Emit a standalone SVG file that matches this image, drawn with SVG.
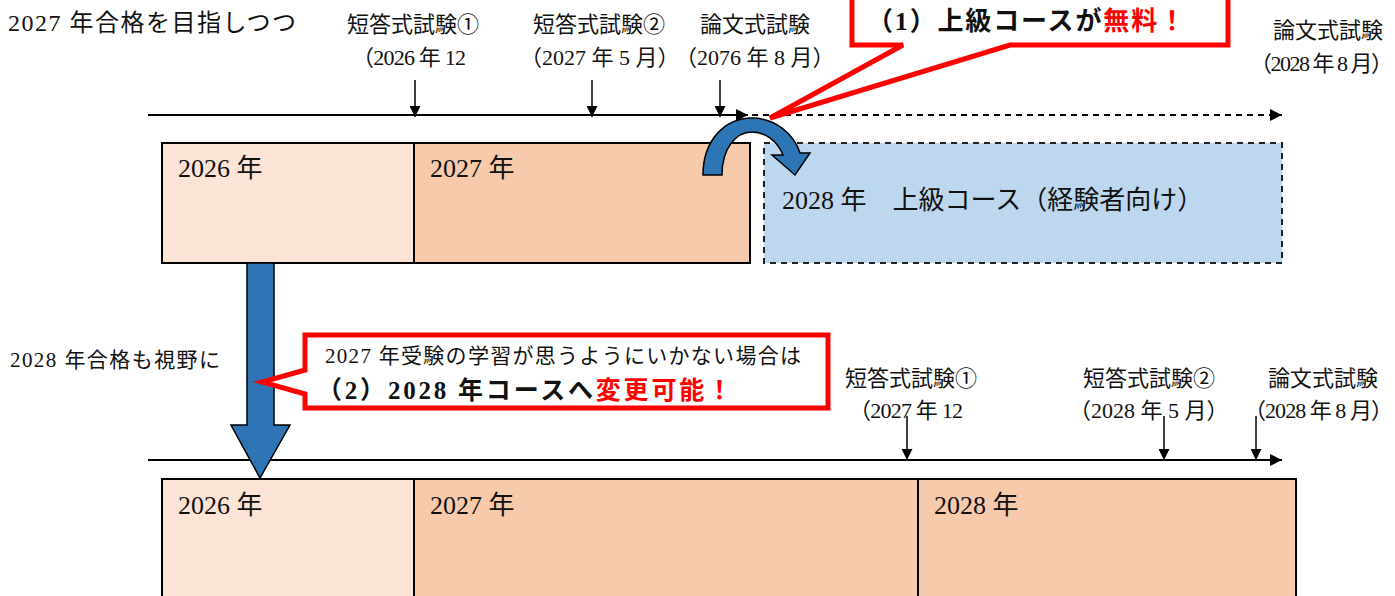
<svg xmlns="http://www.w3.org/2000/svg" width="1395" height="596" viewBox="0 0 1395 596">
<defs>
<style>
text{font-family:"Liberation Serif","Noto Sans CJK JP",serif;fill:#111}
.lbl{font-size:22px}
.big{font-size:26px}
.mid{font-size:21px}
.bold{font-weight:bold}
.red{fill:#ff0000}
.line{stroke:#000;stroke-width:2;fill:none}
.tick{stroke:#000;stroke-width:1.5;fill:none}
.box{stroke:#000;stroke-width:2}
.c1{fill:#fbe4d6}
.c2{fill:#f7caac}
.callout{fill:#fff;stroke:#ff0000;stroke-width:5;stroke-linejoin:miter}
.blue{fill:#2e75b6;stroke:#000;stroke-width:1.5}
</style>
<marker id="ah" viewBox="0 0 10 10" refX="10" refY="5" markerWidth="14" markerHeight="12" markerUnits="userSpaceOnUse" orient="auto">
<path d="M0,0 L10,5 L0,10 Z" fill="#000"/>
</marker>
<marker id="ahs" viewBox="0 0 10 10" refX="10" refY="5" markerWidth="14" markerHeight="11" markerUnits="userSpaceOnUse" orient="auto">
<path d="M0,0 L10,5 L0,10 Z" fill="#000"/>
</marker>
</defs>
<rect width="1395" height="596" fill="#fff"/>

<g id="labels-top">
<text x="8" y="31" style="font-size:24px" textLength="288">2027 年合格を目指しつつ</text>
<text class="lbl" x="347" y="32">短答式試験①</text>
<text class="lbl" x="352" y="65" textLength="114">（2026 年 12</text>
<text class="lbl" x="533" y="32">短答式試験②</text>
<text class="lbl" x="520" y="65">（2027 年 5 月）</text>
<text class="lbl" x="700" y="32">論文式試験</text>
<text class="lbl" x="675" y="65">（2076 年 8 月）</text>
<text class="lbl" x="1273" y="38">論文式試験</text>
<text class="lbl" x="1250" y="71" textLength="143">（2028 年 8 月）</text>
</g>

<g id="connectors">
<line class="line" x1="148" y1="115" x2="748" y2="115" marker-end="url(#ah)"/>
<line class="line" x1="752" y1="115" x2="1282" y2="115" stroke-dasharray="6,5" marker-end="url(#ah)"/>
<line class="tick" x1="415" y1="80" x2="415" y2="117" marker-end="url(#ahs)"/>
<line class="tick" x1="592" y1="80" x2="592" y2="117" marker-end="url(#ahs)"/>
<line class="tick" x1="720" y1="80" x2="720" y2="117" marker-end="url(#ahs)"/>
<line class="line" x1="148" y1="460" x2="1282" y2="460" marker-end="url(#ah)"/>
<line class="tick" x1="907" y1="416" x2="907" y2="460" marker-end="url(#ahs)"/>
<line class="tick" x1="1164" y1="416" x2="1164" y2="460" marker-end="url(#ahs)"/>
<line class="tick" x1="1256" y1="416" x2="1256" y2="460" marker-end="url(#ahs)"/>
</g>

<g id="box-2026-top">
<rect class="box c1" x="162" y="143" width="252" height="120"/>
<text class="big" x="178" y="177">2026 年</text>
</g>
<g id="box-2027-top">
<rect class="box c2" x="414" y="143" width="336" height="120"/>
<text class="big" x="430" y="177">2027 年</text>
</g>
<g id="box-2028-advanced">
<rect x="764" y="143" width="518" height="120" fill="#bdd7ee" stroke="#222" stroke-width="2" stroke-dasharray="6,5"/>
<text class="big" x="782" y="209">2028 年　上級コース（経験者向け）</text>
</g>

<g id="curved-arrow">
<path class="blue" d="M703,175 C703,140 725,118 752,118 C775,118 794,134 800,153 L810,153 L795,175 L772,155 L783,155 C778,142 766,132 752,132 C736,132 722,148 722,175 Z"/>
</g>

<g id="callout-1">
<path class="callout" d="M852,-5 L1228,-5 L1228,45 L1010,45 L770,118 L903,45 L852,45 Z"/>
<text class="bold" x="867" y="30" style="font-size:26px" textLength="318">（1）上級コースが<tspan class="red">無料！</tspan></text>
</g>

<g id="down-arrow">
<path class="blue" d="M247,263 L274,263 L274,425 L290,425 L260,478 L231,425 L247,425 Z"/>
</g>

<g id="labels-bottom">
<text class="mid" x="10" y="367" textLength="210">2028 年合格も視野に</text>
<text class="lbl" x="845" y="386">短答式試験①</text>
<text class="lbl" x="849" y="418" textLength="114">（2027 年 12</text>
<text class="lbl" x="1083" y="386">短答式試験②</text>
<text class="lbl" x="1069" y="418">（2028 年 5 月）</text>
<text class="lbl" x="1268" y="386">論文式試験</text>
<text class="lbl" x="1244" y="418" textLength="149">（2028 年 8 月）</text>
</g>

<g id="callout-2">
<path class="callout" d="M305,335 L828,335 L828,408 L305,408 L305,394 L262,382 L305,370 Z"/>
<text class="mid" x="325" y="363" textLength="476">2027 年受験の学習が思うようにいかない場合は</text>
<text class="bold" x="317" y="399" style="font-size:25px" textLength="415">（2）2028 年コースへ<tspan class="red">変更可能！</tspan></text>
</g>

<g id="box-2026-bottom">
<rect class="box c1" x="162" y="479" width="252" height="130"/>
<text class="big" x="178" y="514">2026 年</text>
</g>
<g id="box-2027-bottom">
<rect class="box c2" x="414" y="479" width="504" height="130"/>
<text class="big" x="430" y="514">2027 年</text>
</g>
<g id="box-2028-bottom">
<rect class="box c2" x="918" y="479" width="378" height="130"/>
<text class="big" x="934" y="514">2028 年</text>
</g>
</svg>
